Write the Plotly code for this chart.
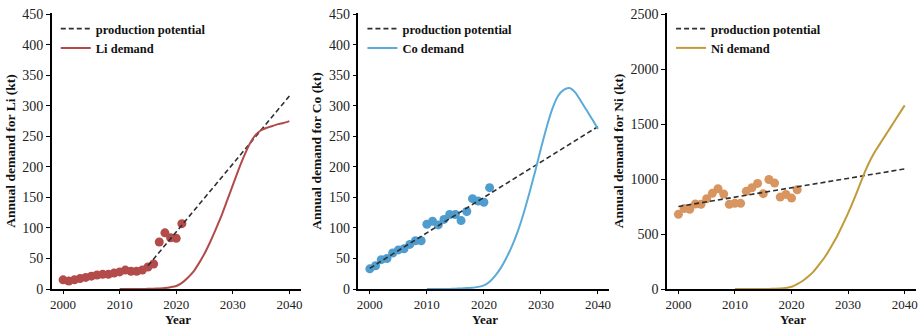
import plotly.graph_objects as go
from plotly.subplots import make_subplots

hist_years = list(range(2000, 2022))
proj_years = list(range(2010, 2041))

li_hist = [15, 13, 15, 17, 19, 21, 23, 24, 24, 26, 28, 31, 29, 29, 31, 36, 41, 77, 92, 84, 83, 107]
co_hist = [33, 38, 48, 50, 59, 64, 66, 73, 79, 79, 106, 111, 105, 114, 122, 122, 112, 127, 148, 144, 142, 166]
ni_hist = [679, 731, 725, 773, 770, 821, 870, 912, 864, 770, 779, 779, 888, 921, 960, 867, 996, 963, 836, 860, 827, 903]

li_demand = [0, 0, 0, 0, 0.1, 0.3, 0.5, 0.9, 1.5, 3, 5, 10, 18, 28, 42, 58, 77, 98, 120, 145, 170,
             195, 218, 238, 252, 260, 264, 267, 270, 272, 275]
co_demand = [0, 0, 0, 0, 0.2, 0.5, 1, 1.5, 2, 3.5, 6, 12, 22, 35, 52, 72, 96, 125, 158, 193, 230,
             265, 295, 316, 326, 329, 322, 308, 293, 278, 262]
ni_demand = [0, 0, 0, 0, 0, 0, 1, 3, 5, 10, 20, 45, 75, 115, 165, 230, 300, 385, 475, 580, 690,
             810, 940, 1070, 1180, 1270, 1350, 1430, 1510, 1590, 1670]

li_pot_years = [2015, 2040]
li_pot = [38, 316]
co_pot_years = [2000, 2040]
co_pot = [34, 266]
ni_pot_years = [2000, 2040]
ni_pot = [750, 1092]

panels = [
    ("Li", li_hist, li_demand, li_pot_years, li_pot, "#b44b4b", "#b24a4a", [0, 452], 50),
    ("Co", co_hist, co_demand, co_pot_years, co_pot, "#4f9ccf", "#5aabd8", [0, 452], 50),
    ("Ni", ni_hist, ni_demand, ni_pot_years, ni_pot, "#d8955f", "#bf9b3a", [0, 2510], 500),
]

W, H = 919, 328
T, B = 13, 39
PH = H - T - B
FONT = "Liberation Serif, Times New Roman, serif"

fig = make_subplots(rows=1, cols=3)
domains = [(50, 300), (358, 610), (668, 918)]
legend_names = ["legend", "legend2", "legend3"]

for i, (el, hist, dem, py, pv, mcol, lcol, yr, dt) in enumerate(panels):
    col = i + 1
    lg = legend_names[i]
    fig.add_trace(go.Scatter(x=hist_years, y=hist, mode="markers",
                             marker=dict(color=mcol, size=9, line=dict(width=0)),
                             showlegend=False), row=1, col=col)
    fig.add_trace(go.Scatter(x=py, y=pv, mode="lines", name="<b>production potential</b>",
                             line=dict(color="#2f2f2f", width=1.6, dash="5px,3px"),
                             legend=lg), row=1, col=col)
    fig.add_trace(go.Scatter(x=proj_years, y=dem, mode="lines", name=f"<b>{el} demand</b>",
                             line=dict(color=lcol, width=2, shape="spline", smoothing=0.6),
                             legend=lg), row=1, col=col)
    d0, d1 = domains[i]
    xa = "xaxis" if i == 0 else f"xaxis{col}"
    ya = "yaxis" if i == 0 else f"yaxis{col}"
    fig.layout[xa].update(domain=[d0 / W, d1 / W], range=[1998, 2042],
                          tickvals=[2000, 2010, 2020, 2030, 2040],
                          showline=True, linecolor="black", linewidth=1.5, mirror=False,
                          ticks="outside", ticklen=3, tickwidth=1.2, tickcolor="black",
                          showgrid=False, zeroline=False,
                          tickfont=dict(family=FONT, size=13, color="#222"))
    fig.layout[ya].update(range=yr, dtick=dt, tick0=0,
                          title=dict(text=f"<b>Annual demand for {el} (kt)</b>",
                                     font=dict(family=FONT, size=13.5, color="#111"), standoff=4),
                          showline=True, linecolor="black", linewidth=1.5,
                          ticks="outside", ticklen=4, tickwidth=1.2, tickcolor="black",
                          showgrid=False, zeroline=False,
                          tickfont=dict(family=FONT, size=14, color="#222"))
    fig.layout[lg] = dict(x=(d0 + 4) / W, y=1 - 1 / PH, xanchor="left", yanchor="top",
                          bgcolor="rgba(0,0,0,0)", borderwidth=0,
                          font=dict(family=FONT, size=12.5, color="#111"),
                          itemwidth=30, tracegroupgap=0)
    # x-axis title placed as annotation below tick labels
    cx = (d0 + 11 + (d1 - d0 - 23) / 2 + 2) / W
    fig.add_annotation(text="<b>Year</b>", xref="paper", yref="paper",
                       x=cx, y=-B / PH, xanchor="center", yanchor="bottom",
                       borderpad=0, showarrow=False,
                       font=dict(family=FONT, size=13, color="#111"))

fig.update_layout(width=W, height=H, margin=dict(l=0, r=0, t=T, b=B),
                  plot_bgcolor="white", paper_bgcolor="white",
                  font=dict(family=FONT, size=12, color="#111"))

fig.write_html("out.html")
